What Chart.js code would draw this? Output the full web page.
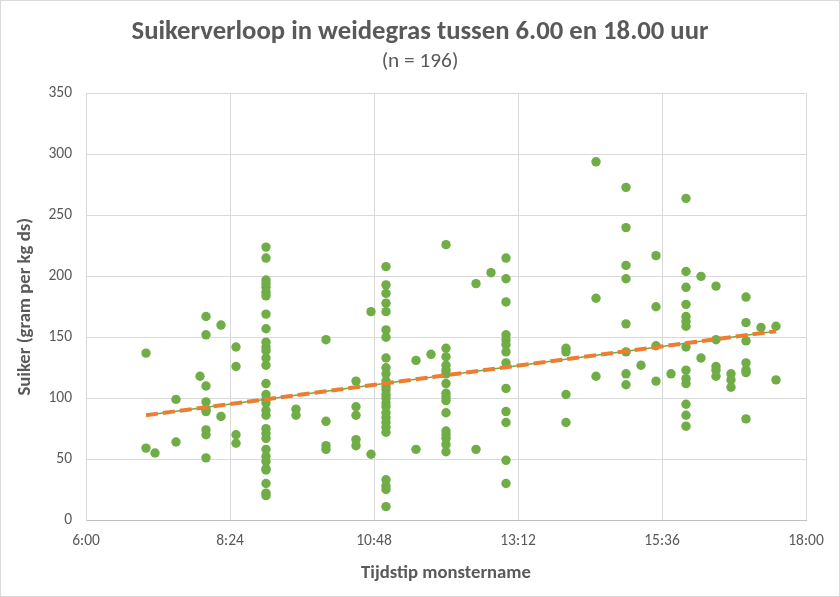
<!DOCTYPE html>
<html>
<head>
<meta charset="utf-8">
<script src="https://cdn.jsdelivr.net/npm/chart.js@4/dist/chart.umd.min.js"></script>
<style>
  html, body { margin: 0; padding: 0; background: #fff; }
  canvas { display: block; }
</style>
</head>
<body>
<canvas id="sugarCanvas" width="840" height="597"></canvas>
<script>
// sample times (decimal hours) and the sugar values measured at each time
var sampleTimes = [7, 7.15, 7.5, 7.9, 8, 8.25, 8.5, 9, 9.5, 10, 10.5, 10.75, 11, 11.5, 11.75, 12,
    12.5, 12.75, 13, 14, 14.5, 15, 15.25, 15.5, 15.75, 16, 16.25, 16.5, 16.75, 17, 17.25, 17.5];
var sugarValues = [
    [137, 59],
    [55],
    [99, 64],
    [118],
    [167, 152, 110, 97, 91, 89, 74, 70, 51],
    [160, 85],
    [142, 126, 70, 63],
    [224, 215, 197, 194, 191, 187, 184, 169, 157, 146, 142, 139, 133, 127, 112, 103, 99, 96, 90, 86, 75, 71, 67, 58, 52, 48, 42, 41, 30, 22, 20],
    [91, 86],
    [148, 81, 61, 58],
    [114, 93, 86, 66, 61],
    [171, 54],
    [208, 193, 186, 178, 171, 156, 150, 133, 125, 120, 114, 110, 107, 103, 100, 96, 93, 88, 84, 80, 76, 72, 33, 28, 25, 11],
    [131, 58],
    [136],
    [226, 141, 134, 127, 123, 120, 112, 104, 101, 98, 88, 73, 70, 67, 62, 56],
    [194, 58],
    [203],
    [215, 198, 179, 152, 148, 144, 138, 129, 108, 89, 80, 49, 30],
    [141, 138, 103, 80],
    [294, 182, 118],
    [273, 240, 209, 198, 161, 138, 120, 111],
    [127],
    [217, 175, 143, 114],
    [120],
    [264, 204, 191, 177, 167, 163, 159, 142, 123, 116, 112, 95, 86, 77],
    [200, 133],
    [192, 148, 126, 123, 118],
    [120, 115, 109],
    [183, 162, 147, 129, 123, 121, 83],
    [158],
    [159, 115]
];
// linear trendline (start and end of the line)
var trendTimes = [7, 17.5];
var trendValues = [86, 155];

var xTicks = [6, 8.4, 10.8, 13.2, 15.6, 18];
var yTicks = [0, 50, 100, 150, 200, 250, 300, 350];

var chartTitle = 'Suikerverloop in weidegras tussen 6.00 en 18.00 uur';
var chartSubtitle = '(n = 196)';
var xTitle = 'Tijdstip monstername';
var yTitle = 'Suiker (gram per kg ds)';

var textColor = '#595959';
var fontFamily = 'Carlito, Lato, "Liberation Sans", sans-serif';

// flatten to scatter points
var points = [];
for (var i = 0; i < sampleTimes.length; i++) {
    for (var j = 0; j < sugarValues[i].length; j++) {
        points.push({x: sampleTimes[i], y: sugarValues[i][j]});
    }
}
var trend = trendTimes.map(function (t, k) { return {x: t, y: trendValues[k]}; });

var timeLabel = function (v) {
    var h = Math.floor(v + 1e-9);
    var m = Math.round((v - h) * 60);
    return h + ':' + (m < 10 ? '0' + m : m);
};

var frame = {
    id: 'frame',
    beforeDraw: function (chart) {
        var c = chart.ctx;
        c.save();
        c.fillStyle = '#ffffff';
        c.fillRect(0, 0, chart.width, chart.height);
        c.restore();
    },
    afterDraw: function (chart) {
        var c = chart.ctx;
        c.save();
        c.strokeStyle = '#d9d9d9';
        c.lineWidth = 1;
        c.strokeRect(0.5, 0.5, chart.width - 1, chart.height - 1);
        c.restore();
    }
};

new Chart(document.getElementById('sugarCanvas'), {
    type: 'scatter',
    data: {
        datasets: [
            {
                label: 'trend',
                type: 'line',
                data: trend,
                borderColor: '#ed7d31',
                borderWidth: 4,
                borderDash: [12, 5],
                pointRadius: 0,
                order: 0
            },
            {
                label: 'trend-under',
                type: 'line',
                data: trend,
                borderColor: '#70ad47',
                borderWidth: 1.5,
                pointRadius: 0,
                order: 1
            },
            {
                label: 'Suiker',
                data: points,
                backgroundColor: '#70ad47',
                borderWidth: 0,
                pointRadius: 4.7,
                order: 2
            }
        ]
    },
    options: {
        responsive: false,
        animation: false,
        layout: {padding: {left: 10, right: 10, top: 0, bottom: 8}},
        plugins: {
            legend: {display: false},
            tooltip: {enabled: false},
            title: {
                display: true,
                text: chartTitle,
                color: textColor,
                font: {family: fontFamily, size: 26.7, weight: 'bold'},
                padding: {top: 16, bottom: 1}
            },
            subtitle: {
                display: true,
                text: chartSubtitle,
                color: textColor,
                font: {family: fontFamily, size: 21.3, weight: 'normal'},
                padding: {top: 0, bottom: 19}
            }
        },
        scales: {
            x: {
                type: 'linear',
                min: 6,
                max: 18,
                afterBuildTicks: function (s) {
                    s.ticks = xTicks.map(function (v) { return {value: v}; });
                },
                afterFit: function (s) { s.height = 69; },
                grid: {color: '#d9d9d9', drawTicks: false},
                border: {color: '#bfbfbf'},
                ticks: {
                    color: textColor,
                    font: {family: fontFamily, size: 15.5},
                    padding: 12,
                    maxRotation: 0,
                    callback: function (v) { return timeLabel(v); }
                },
                title: {
                    display: true,
                    text: xTitle,
                    color: textColor,
                    font: {family: fontFamily, size: 18.7, weight: 'bold'},
                    padding: {top: 10}
                }
            },
            y: {
                min: 0,
                max: 350,
                afterBuildTicks: function (s) {
                    s.ticks = yTicks.map(function (v) { return {value: v}; });
                },
                afterFit: function (s) { s.width = 76; },
                grid: {color: '#d9d9d9', drawTicks: false},
                border: {color: '#d9d9d9'},
                ticks: {
                    color: textColor,
                    font: {family: fontFamily, size: 15.5},
                    padding: 14
                },
                title: {
                    display: true,
                    text: yTitle,
                    color: textColor,
                    font: {family: fontFamily, size: 18.7, weight: 'bold'},
                    padding: {bottom: 2}
                }
            },
            // empty right-hand spacer so the plot ends at the same place as the reference
            spacer: {
                type: 'linear',
                position: 'right',
                display: true,
                grid: {display: false},
                border: {display: false},
                ticks: {display: false},
                afterFit: function (s) { s.width = 24; }
            }
        }
    },
    plugins: [frame]
});
</script>
</body>
</html>
